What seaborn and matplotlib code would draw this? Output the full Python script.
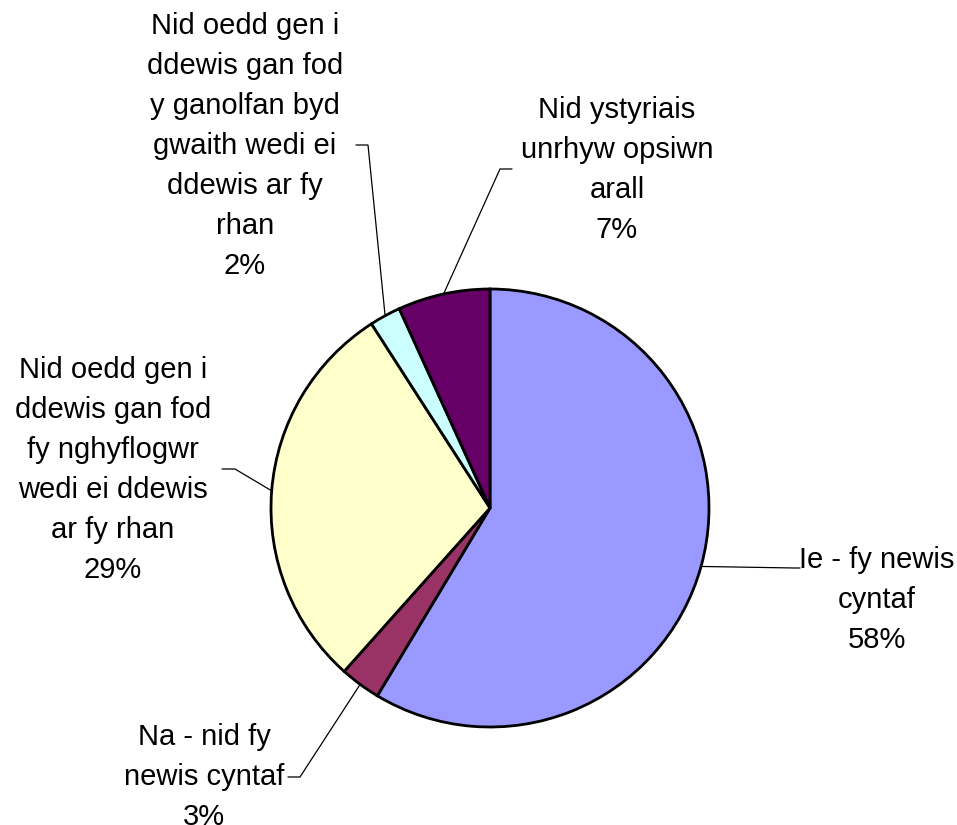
import numpy as np
import matplotlib
matplotlib.use("Agg")
import matplotlib.pyplot as plt
import seaborn as sns

# ---- data ----
categories = [
    "Ie - fy newis\ncyntaf",
    "Na - nid fy\nnewis cyntaf",
    "Nid oedd gen i\nddewis gan fod\nfy nghyflogwr\nwedi ei ddewis\nar fy rhan",
    "Nid oedd gen i\nddewis gan fod\ny ganolfan byd\ngwaith wedi ei\nddewis ar fy\nrhan",
    "Nid ystyriais\nunrhyw opsiwn\narall",
]
values = [58.6, 3.0, 29.3, 2.3, 6.8]
pct_labels = ["58%", "3%", "29%", "2%", "7%"]
colors = ["#9999FF", "#993366", "#FFFFCC", "#CCFFFF", "#660066"]

# ---- layout (pixel coordinates, y measured downward) ----
W, H = 957, 825
CX, CY, R = 490, 508, 219
text_pos = [(877, 600), (204, 777), (113, 470), (245, 146), (617, 170)]
elbow_pos = [(795, 568), (300, 777), (235, 469), (368, 145), (500, 169)]
tick_end = [(800, 568), (288, 777), (222, 469), (356, 145), (512, 169)]

sns.set_theme(style="white")
plt.rcParams["font.family"] = ["Liberation Sans", "DejaVu Sans"]

fig = plt.figure(figsize=(W / 100, H / 100), dpi=100)
ax = fig.add_axes([0, 0, 1, 1])

wedges, _ = ax.pie(
    values, colors=colors, startangle=90, counterclock=False,
    center=(CX, H - CY), radius=R,
    wedgeprops=dict(edgecolor="black", linewidth=2.0),
)
ax.set_xlim(0, W)
ax.set_ylim(0, H)
ax.set_aspect("equal")
ax.axis("off")

for i, w in enumerate(wedges):
    mid = np.deg2rad((w.theta1 + w.theta2) / 2)
    ex = CX + R * np.cos(mid)
    ey = (H - CY) + R * np.sin(mid)
    bx, by = elbow_pos[i]
    tx, ty = tick_end[i]
    ax.plot([ex, bx, tx], [ey, H - by, H - ty], color="black", lw=0.9,
            solid_joinstyle="miter")
    px, py = text_pos[i]
    ax.text(px, H - py, categories[i] + "\n" + pct_labels[i],
            ha="center", va="center", multialignment="center",
            fontsize=21, linespacing=1.55, color="black")

fig.savefig("out.png", dpi=100)
